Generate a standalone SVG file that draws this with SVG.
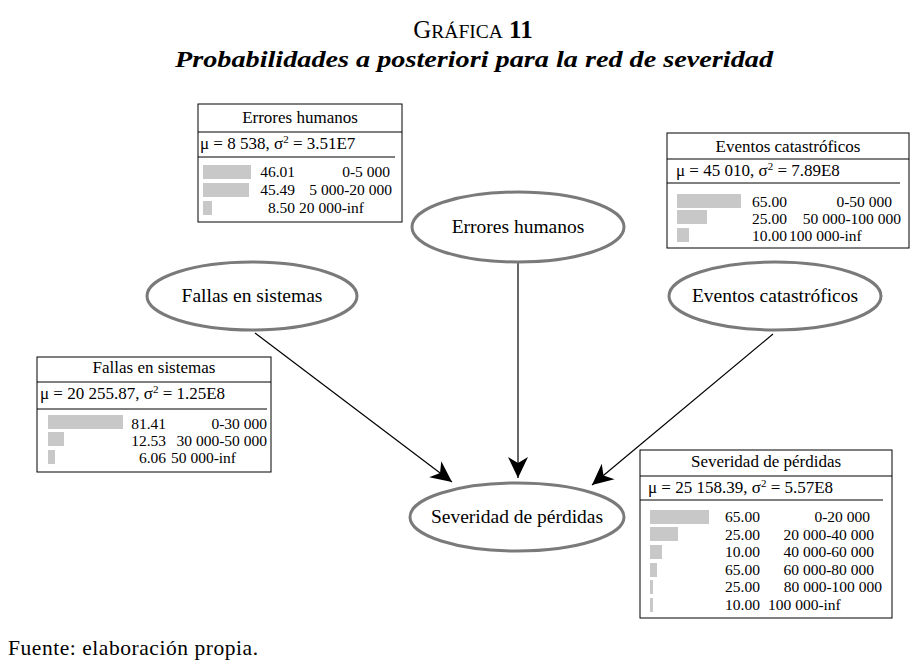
<svg xmlns="http://www.w3.org/2000/svg" width="914" height="666" viewBox="0 0 914 666">
<style>
text{font-family:"Liberation Serif","Times New Roman",serif;fill:#000}
.t{font-size:17px}
.n{font-size:15.5px}
.h{font-size:17px;text-anchor:middle}
.e{font-size:19.5px;text-anchor:middle}
.r{text-anchor:end}
.box{fill:#fff;stroke:#000;stroke-width:1}
.ln{stroke:#000;stroke-width:1}
.bar{fill:#c8c8c8}
.ell{fill:#fff;stroke:#7a7a7a;stroke-width:3}
.con{stroke:#000;stroke-width:1.2;fill:none}
.sup{font-size:11px}
</style>
<defs>
<marker id="ah" markerUnits="userSpaceOnUse" markerWidth="24" markerHeight="24" viewBox="-22 -12 24 24" refX="0" refY="0" orient="auto">
<path d="M0,0 L-21,-10 L-15,0 L-21,10 Z" fill="#000"/>
</marker>
</defs>
<rect width="914" height="666" fill="#fff"/>
<g id="title">
<text x="473" y="38" text-anchor="middle" font-size="25"><tspan>G</tspan><tspan font-size="19.5">RÁFICA</tspan> <tspan font-weight="bold">11</tspan></text>
<text x="474" y="67" text-anchor="middle" font-size="24" font-style="italic" font-weight="bold" textLength="598" lengthAdjust="spacingAndGlyphs">Probabilidades a posteriori para la red de severidad</text>
</g>
<g id="connectors">
<line class="con" x1="518" y1="262" x2="518" y2="478" marker-end="url(#ah)"/>
<line class="con" x1="255" y1="333" x2="452" y2="482" marker-end="url(#ah)"/>
<line class="con" x1="773" y1="334" x2="592" y2="485" marker-end="url(#ah)"/>
</g>
<g id="node-errores">
<ellipse class="ell" cx="518" cy="227" rx="106" ry="35"/>
<text class="e" x="518" y="233">Errores humanos</text>
</g>
<g id="node-fallas">
<ellipse class="ell" cx="252" cy="296" rx="105" ry="34"/>
<text class="e" x="252" y="302">Fallas en sistemas</text>
</g>
<g id="node-eventos">
<ellipse class="ell" cx="775" cy="296" rx="106" ry="34"/>
<text class="e" x="775" y="302">Eventos catastróficos</text>
</g>
<g id="node-severidad">
<ellipse class="ell" cx="517" cy="517" rx="107" ry="34"/>
<text class="e" x="517" y="523">Severidad de pérdidas</text>
</g>
<g id="table-errores">
<rect class="box" x="198" y="104" width="204" height="118"/>
<line class="ln" x1="198" y1="132" x2="402" y2="132"/>
<line class="ln" x1="198" y1="157" x2="395" y2="157"/>
<text class="h" x="300" y="123">Errores humanos</text>
<text class="t" x="200" y="149">μ = 8 538, σ<tspan class="sup" dy="-6">2</tspan><tspan dy="6"> = 3.51E7</tspan></text>
<rect class="bar" x="203" y="165" width="48" height="14"/>
<rect class="bar" x="203" y="183" width="46" height="14"/>
<rect class="bar" x="203" y="201" width="9" height="14"/>
<text class="n r" x="295" y="177">46.01</text>
<text class="n r" x="295" y="195">45.49</text>
<text class="n r" x="295" y="213">8.50</text>
<text class="n r" x="390" y="177">0-5 000</text>
<text class="n r" x="392" y="195">5 000-20 000</text>
<text class="n" x="299" y="213">20 000-inf</text>
</g>
<g id="table-eventos">
<rect class="box" x="667" y="133" width="242" height="115"/>
<line class="ln" x1="667" y1="159" x2="909" y2="159"/>
<line class="ln" x1="667" y1="183" x2="900" y2="183"/>
<text class="h" x="788" y="152">Eventos catastróficos</text>
<text class="t" x="676" y="176">μ = 45 010, σ<tspan class="sup" dy="-6">2</tspan><tspan dy="6"> = 7.89E8</tspan></text>
<rect class="bar" x="677" y="194" width="64" height="14"/>
<rect class="bar" x="677" y="210" width="30" height="14"/>
<rect class="bar" x="677" y="228" width="12" height="14"/>
<text class="n" x="752" y="207">65.00</text>
<text class="n" x="752" y="224">25.00</text>
<text class="n" x="752" y="241">10.00</text>
<text class="n r" x="892" y="207">0-50 000</text>
<text class="n r" x="901" y="224">50 000-100 000</text>
<text class="n" x="789" y="241">100 000-inf</text>
</g>
<g id="table-fallas">
<rect class="box" x="37" y="357" width="234" height="115"/>
<line class="ln" x1="37" y1="382" x2="271" y2="382"/>
<line class="ln" x1="37" y1="409" x2="267" y2="409"/>
<text class="h" x="154" y="373">Fallas en sistemas</text>
<text class="t" x="40" y="399">μ = 20 255.87, σ<tspan class="sup" dy="-6">2</tspan><tspan dy="6"> = 1.25E8</tspan></text>
<rect class="bar" x="48" y="415" width="75" height="14"/>
<rect class="bar" x="48" y="432" width="16" height="14"/>
<rect class="bar" x="48" y="450" width="7" height="14"/>
<text class="n r" x="166" y="429">81.41</text>
<text class="n r" x="166" y="446">12.53</text>
<text class="n r" x="166" y="463">6.06</text>
<text class="n r" x="267" y="429">0-30 000</text>
<text class="n r" x="267" y="446">30 000-50 000</text>
<text class="n" x="171" y="463">50 000-inf</text>
</g>
<g id="table-severidad">
<rect class="box" x="640" y="450" width="252" height="168"/>
<line class="ln" x1="640" y1="476" x2="892" y2="476"/>
<line class="ln" x1="640" y1="500" x2="883" y2="500"/>
<text class="h" x="766" y="467">Severidad de pérdidas</text>
<text class="t" x="648" y="493">μ = 25 158.39, σ<tspan class="sup" dy="-6">2</tspan><tspan dy="6"> = 5.57E8</tspan></text>
<rect class="bar" x="650" y="510" width="59" height="14"/>
<rect class="bar" x="650" y="527" width="28" height="14"/>
<rect class="bar" x="650" y="545" width="12" height="14"/>
<rect class="bar" x="650" y="563" width="7" height="14"/>
<rect class="bar" x="650" y="580" width="3" height="14"/>
<rect class="bar" x="650" y="598" width="3" height="14"/>
<text class="n" x="725" y="522">65.00</text>
<text class="n" x="725" y="540">25.00</text>
<text class="n" x="725" y="557">10.00</text>
<text class="n" x="725" y="575">65.00</text>
<text class="n" x="725" y="592">25.00</text>
<text class="n" x="725" y="610">10.00</text>
<text class="n r" x="870" y="522">0-20 000</text>
<text class="n r" x="874" y="540">20 000-40 000</text>
<text class="n r" x="874" y="557">40 000-60 000</text>
<text class="n r" x="874" y="575">60 000-80 000</text>
<text class="n r" x="882" y="592">80 000-100 000</text>
<text class="n" x="768" y="610">100 000-inf</text>
</g>
<g id="footer">
<text x="8" y="655" font-size="21.5" textLength="250">Fuente: elaboración propia.</text>
</g>
</svg>
